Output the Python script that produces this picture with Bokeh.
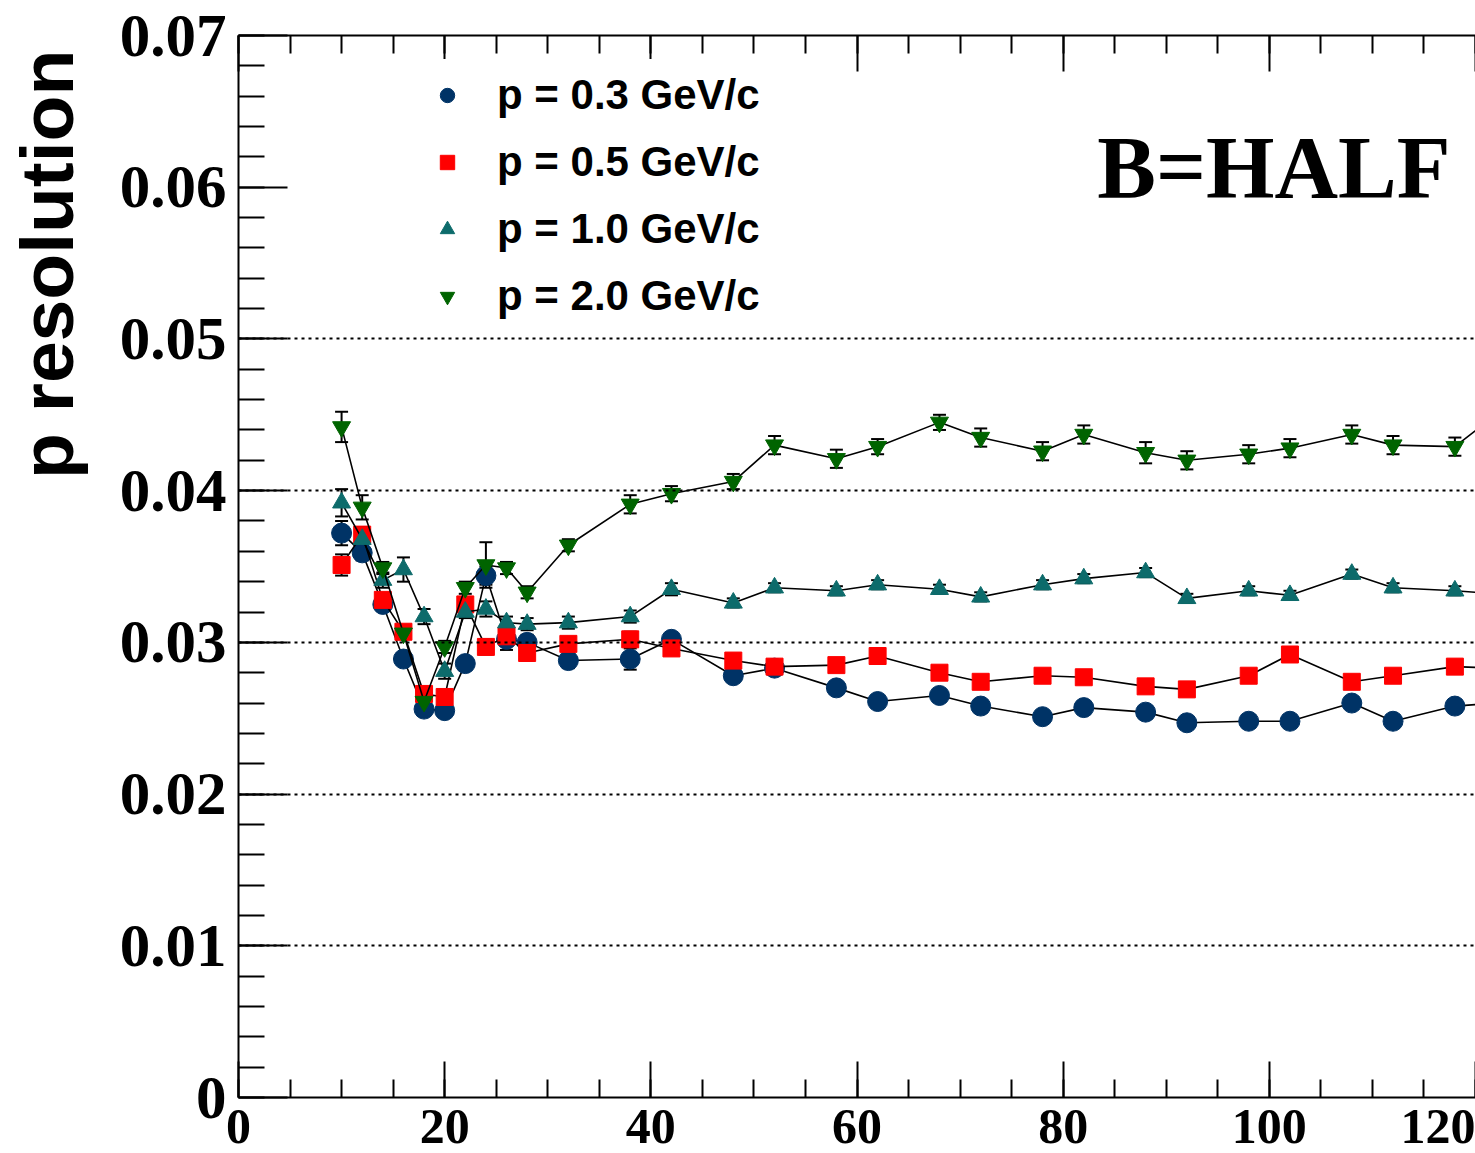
from bokeh.plotting import figure
from bokeh.models import (ColumnDataSource, Range1d, FixedTicker, LinearAxis, Whisker,
                          TeeHead, Legend, LegendItem, Label)
from bokeh.embed import file_html
from bokeh.resources import INLINE

# ---------------- data ----------------
X = [10, 12, 14, 16, 18, 20, 22, 24, 26, 28, 32, 38, 42, 48, 52, 58, 62, 68, 72, 78,
     82, 88, 92, 98, 102, 108, 112, 118, 122]

RES_03 = [0.0372, 0.0359, 0.0325, 0.0289, 0.0256, 0.0255, 0.0286, 0.0344, 0.0302, 0.0300,
          0.0288, 0.0289, 0.0302, 0.0278, 0.0283, 0.0270, 0.0261, 0.0265, 0.0258, 0.0251,
          0.0257, 0.0254, 0.0247, 0.0248, 0.0248, 0.0260, 0.0248, 0.0258, 0.0260]
ERR_03 = [0.0008, 0.0005, 0.0004, 0.0004, 0.0003, 0.0003, 0.0004, 0.0006, 0.0007, 0.0005,
          0.0005, 0.0007, 0.0004, 0.0003, 0.0003, 0.0003, 0.0003, 0.0003, 0.0003, 0.0003,
          0.0003, 0.0003, 0.0003, 0.0003, 0.0003, 0.0003, 0.0003, 0.0003, 0.0003]

RES_05 = [0.0351, 0.0371, 0.0328, 0.0307, 0.0266, 0.0264, 0.0325, 0.0297, 0.0304, 0.0293,
          0.0299, 0.0302, 0.0296, 0.0288, 0.0284, 0.0285, 0.0291, 0.0280, 0.0274, 0.0278,
          0.0277, 0.0271, 0.0269, 0.0278, 0.0292, 0.0274, 0.0278, 0.0284, 0.0283]
ERR_05 = [0.0007, 0.0005, 0.0004, 0.0004, 0.0003, 0.0003, 0.0004, 0.0005, 0.0005, 0.0005,
          0.0004, 0.0005, 0.0004, 0.0003, 0.0003, 0.0003, 0.0003, 0.0003, 0.0003, 0.0003,
          0.0003, 0.0003, 0.0003, 0.0003, 0.0003, 0.0003, 0.0003, 0.0003, 0.0003]

RES_10 = [0.0392, 0.0368, 0.0341, 0.0348, 0.0317, 0.0281, 0.0320, 0.0322, 0.0313, 0.0312,
          0.0313, 0.0317, 0.0335, 0.0326, 0.0336, 0.0334, 0.0338, 0.0335, 0.0330, 0.0338,
          0.0342, 0.0346, 0.0329, 0.0334, 0.0331, 0.0345, 0.0336, 0.0334, 0.0332]
ERR_10 = [0.0009, 0.0006, 0.0005, 0.0008, 0.0005, 0.0005, 0.0004, 0.0005, 0.0004, 0.0004,
          0.0004, 0.0004, 0.0004, 0.0003, 0.0003, 0.0003, 0.0003, 0.0003, 0.0003, 0.0003,
          0.0003, 0.0003, 0.0003, 0.0003, 0.0003, 0.0003, 0.0003, 0.0003, 0.0003]

RES_20 = [0.0442, 0.0389, 0.0349, 0.0306, 0.0261, 0.0297, 0.0336, 0.0351, 0.0349, 0.0333,
          0.0364, 0.0391, 0.0398, 0.0406, 0.0430, 0.0421, 0.0429, 0.0445, 0.0435, 0.0426,
          0.0437, 0.0425, 0.0420, 0.0424, 0.0428, 0.0437, 0.0430, 0.0429, 0.0450]
ERR_20 = [0.0010, 0.0008, 0.0004, 0.0004, 0.0004, 0.0004, 0.0004, 0.0015, 0.0004, 0.0004,
          0.0004, 0.0006, 0.0005, 0.0005, 0.0006, 0.0006, 0.0005, 0.0005, 0.0006, 0.0006,
          0.0006, 0.0007, 0.0006, 0.0006, 0.0006, 0.0006, 0.0006, 0.0006, 0.0006]

SERIES_LABELS = ["p = 0.3 GeV/c", "p = 0.5 GeV/c", "p = 1.0 GeV/c", "p = 2.0 GeV/c"]
X_TICKS = [0, 20, 40, 60, 80, 100, 120]
X_MINOR = [0, 5, 10, 15, 20, 25, 30, 35, 40, 45, 50, 55, 60, 65, 70, 75, 80, 85, 90, 95,
           100, 105, 110, 115, 120]
Y_TICKS = [0.0, 0.01, 0.02, 0.03, 0.04, 0.05, 0.06, 0.07]
Y_TICK_LABELS = ["0", "0.01", "0.02", "0.03", "0.04", "0.05", "0.06", "0.07"]
Y_MINOR = [round(0.002 * i, 3) for i in range(36)]
GRID_Y = [0.01, 0.02, 0.03, 0.04, 0.05]
Y_TITLE = "p resolution"
FIELD_TEXT = "B=HALF"

# ---------------- figure ----------------
p = figure(width=1475, height=1153, output_backend="svg", toolbar_location=None,
           x_range=Range1d(0, 120), y_range=Range1d(0, 0.07),
           min_border_left=238, min_border_right=0, min_border_top=35, min_border_bottom=56,
           background_fill_color="white", border_fill_color="white")
p.outline_line_color = None

serif = "Liberation Serif"
sans = "Liberation Sans"

# axes
xa = p.xaxis[0]
xa.ticker = FixedTicker(ticks=X_TICKS, minor_ticks=X_MINOR)
ya = p.yaxis[0]
ya.ticker = FixedTicker(ticks=Y_TICKS, minor_ticks=Y_MINOR)
ya.major_label_overrides = {t: s for t, s in zip(Y_TICKS, Y_TICK_LABELS)}

for ax in (xa, ya):
    ax.axis_line_width = 2
    ax.axis_line_color = "black"
    ax.major_tick_out = 0
    ax.minor_tick_out = 0
    ax.major_tick_line_width = 2
    ax.minor_tick_line_width = 2
    ax.major_tick_line_color = "black"
    ax.minor_tick_line_color = "black"
    ax.major_label_text_font = serif
    ax.major_label_text_font_style = "bold"
    ax.major_label_text_color = "black"

xa.major_tick_in = 36
xa.minor_tick_in = 18
xa.major_label_text_font_size = "50px"
xa.major_label_standoff = 12

ya.major_tick_in = 49
ya.minor_tick_in = 26
ya.major_label_text_font_size = "61px"
ya.major_label_standoff = 12
# title is top-aligned in the original: pad its start with no-break spaces so that the
# centred axis label ends near the top of the frame
ya.axis_label = "\u00a0" * 29 + Y_TITLE
ya.axis_label_text_font = sans
ya.axis_label_text_font_style = "bold"
ya.axis_label_text_font_size = "75px"
ya.axis_label_text_color = "black"
ya.axis_label_standoff = 28

top = LinearAxis(ticker=FixedTicker(ticks=X_TICKS, minor_ticks=X_MINOR),
                 major_tick_in=36, minor_tick_in=18, major_tick_out=0, minor_tick_out=0,
                 axis_line_width=2, major_tick_line_width=2, minor_tick_line_width=2,
                 major_label_text_font_size="1px", major_label_text_alpha=0,
                 major_label_standoff=0)
p.add_layout(top, "above")

# grid (drawn over the data, as in the original)
p.xgrid.visible = False
p.ygrid.ticker = FixedTicker(ticks=GRID_Y)
p.ygrid.grid_line_color = "black"
p.ygrid.grid_line_width = 2
p.ygrid.grid_line_dash = "3 4"
p.ygrid.level = "overlay"

# series
specs = [
    (RES_03, ERR_03, "circle", 20, "#003366"),
    (RES_05, ERR_05, "square", 17, "#ff0000"),
    (RES_10, ERR_10, "triangle", 18, "#0d6b6b"),
    (RES_20, ERR_20, "inverted_triangle", 18, "#006400"),
]

items = []
for (res, err, marker, size, color), label in zip(specs, SERIES_LABELS):
    src = ColumnDataSource(dict(x=X, y=res,
                                lo=[v - e for v, e in zip(res, err)],
                                hi=[v + e for v, e in zip(res, err)]))
    w = Whisker(base="x", lower="lo", upper="hi", source=src, line_color="black", line_width=2,
                upper_head=TeeHead(size=13, line_width=2, line_color="black"),
                lower_head=TeeHead(size=13, line_width=2, line_color="black"))
    p.add_layout(w)
    p.line("x", "y", source=src, line_color="black", line_width=1.6)
    r = p.scatter("x", "y", source=src, marker=marker, size=size,
                  fill_color=color, line_color=color)
    items.append(LegendItem(label=label, renderers=[r]))

legend = Legend(items=items, location=(179, 765), orientation="vertical",
                label_text_font=sans, label_text_font_style="bold",
                label_text_font_size="42px", label_text_color="black",
                glyph_width=36, glyph_height=36, label_standoff=32,
                spacing=19, padding=12, margin=0,
                border_line_alpha=0, background_fill_color="white", background_fill_alpha=1)
p.add_layout(legend)

p.add_layout(Label(x=83.3, y=0.0613, text=FIELD_TEXT,
                   text_align="left", text_baseline="middle",
                   text_font=serif, text_font_style="bold", text_font_size="88px",
                   text_color="black"))

open("out.html", "w").write(file_html(p, INLINE))
